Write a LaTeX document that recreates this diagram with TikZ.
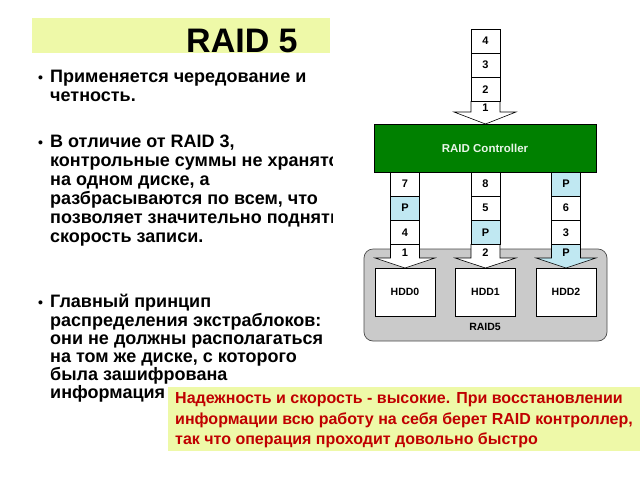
\documentclass[tikz,border=0pt]{standalone}
\usepackage{fontspec}
\setmainfont{Liberation Sans}
\definecolor{bandyel}{RGB}{238,249,168}
\definecolor{ctrlgreen}{RGB}{0,128,0}
\definecolor{raidgray}{RGB}{202,202,202}
\definecolor{parcyan}{RGB}{192,232,242}
\definecolor{notered}{RGB}{192,0,0}
\tikzset{
  txt/.style={anchor=base west, inner sep=0pt, font=\fontsize{18}{19}\selectfont\bfseries},
  bul/.style={anchor=base west, inner sep=0pt, font=\fontsize{14}{19}\selectfont\bfseries},
  note/.style={anchor=base west, inner sep=0pt, text=notered, font=\fontsize{16}{21}\selectfont\bfseries},
  cellbox/.style={draw=black, line width=0.6pt, fill=white, minimum width=29pt, minimum height=24.2pt, inner sep=0pt, font=\fontsize{11}{11}\selectfont\bfseries},
  parbox/.style={cellbox, fill=parcyan},
  arrowhd/.style={draw=black, line width=0.6pt, fill=white},
  hddbox/.style={draw=black, line width=0.6pt, fill=white, minimum width=60pt, minimum height=48pt, inner sep=0pt, font=\fontsize{10.5}{10.5}\selectfont\bfseries},
}
\begin{document}
\begin{tikzpicture}[x=1pt,y=-1pt]
\useasboundingbox (0,0) rectangle (640,480);
\fill[white] (0,0) rectangle (640,480);
% title
\fill[bandyel] (32,18) rectangle (330,53);
\node[anchor=base west, inner sep=0pt, font=\fontsize{34}{34}\selectfont\bfseries] (title) at (186,52) {RAID 5};
% bullets
\node[bul] (b1) at (38,82) {•};
\node[txt] (l11) at (50,82) {Применяется чередование и};
\node[txt] (l12) at (50,101) {четность.};
\node[bul] (b2) at (38,147) {•};
\node[txt] (l21) at (50,147) {В отличие от RAID 3,};
\node[txt] (l22) at (50,166) {контрольные суммы не хранятся};
\node[txt] (l23) at (50,185) {на одном диске, а};
\node[txt] (l24) at (50,204) {разбрасываются по всем, что};
\node[txt] (l25) at (50,223) {позволяет значительно поднять};
\node[txt] (l26) at (50,242) {скорость записи.};
\node[bul] (b3) at (38,307) {•};
\node[txt] (l31) at (50,307) {Главный принцип};
\node[txt] (l32) at (50,326) {распределения экстраблоков:};
\node[txt] (l33) at (50,344.5) {они не должны располагаться};
\node[txt] (l34) at (50,362.5) {на том же диске, с которого};
\node[txt] (l35) at (50,380) {была зашифрована};
\node[txt] (l36) at (50,398) {информация};
% white background of the diagram
\fill[white] (333,58) rectangle (640,350);
% RAID5 group
\draw[fill=raidgray, draw=black!70, line width=0.7pt, rounded corners=9pt] (364,249) rectangle (607,341);
\node[font=\fontsize{10.5}{10.5}\selectfont\bfseries, inner sep=0pt] (raidlbl) at (485,327) {RAID5};
\node[hddbox] (hdd0) at (405,292) {HDD0};
\node[hddbox] (hdd1) at (485.5,292) {HDD1};
\node[hddbox] (hdd2) at (566,292) {HDD2};
% controller
\node[draw=black, line width=0.6pt, fill=ctrlgreen, minimum width=222pt, minimum height=48pt, inner sep=0pt, text={rgb,255:red,232;green,245;blue,232}, font=\fontsize{11.5}{11.5}\selectfont\bfseries] (ctrl) at (485,148) {RAID Controller};
% top input column
\node[cellbox] (t4) at (485.5,41) {4};
\node[cellbox] (t3) at (485.5,65.2) {3};
\node[cellbox] (t2) at (485.5,89.4) {2};
\draw[arrowhd] (471,101.5) -- (471,112) -- (454,112) -- (485.5,124) -- (516,112) -- (500,112) -- (500,101.5) -- cycle;
\node[font=\fontsize{11}{11}\selectfont\bfseries, inner sep=0pt] (t1) at (485.5,108) {1};
% column 0
\node[cellbox] (a7) at (405,184) {7};
\node[parbox] (aP) at (405,208.2) {P};
\node[cellbox] (a4) at (405,232.4) {4};
\draw[arrowhd] (390.5,244.5) -- (390.5,258) -- (375,258) -- (405,268) -- (435,258) -- (419.5,258) -- (419.5,244.5) -- cycle;
\node[font=\fontsize{11}{11}\selectfont\bfseries, inner sep=0pt] (a1) at (405,253) {1};
% column 1
\node[cellbox] (b8) at (485.5,184) {8};
\node[cellbox] (b5) at (485.5,208.2) {5};
\node[parbox] (bP) at (485.5,232.4) {P};
\draw[arrowhd] (471,244.5) -- (471,258) -- (455,258) -- (485.5,268) -- (516,258) -- (500,258) -- (500,244.5) -- cycle;
\node[font=\fontsize{11}{11}\selectfont\bfseries, inner sep=0pt] (b2n) at (485.5,253) {2};
% column 2
\node[parbox] (cP) at (566,184) {P};
\node[cellbox] (c6) at (566,208.2) {6};
\node[cellbox] (c3) at (566,232.4) {3};
\draw[arrowhd, fill=parcyan] (551.5,244.5) -- (551.5,258) -- (536,258) -- (566,268) -- (596,258) -- (580.5,258) -- (580.5,244.5) -- cycle;
\node[font=\fontsize{11}{11}\selectfont\bfseries, inner sep=0pt] (cP2) at (566,253) {P};
% note box
\fill[bandyel] (168,387) rectangle (640,451);
\node[note] (n1) at (175,403) {Надежность и скорость - высокие. При восстановлении};
\node[note] (n2) at (175,424) {информации всю работу на себя берет RAID контроллер,};
\node[note] (n3) at (175,444) {так что операция проходит довольно быстро};
\end{tikzpicture}
\end{document}
